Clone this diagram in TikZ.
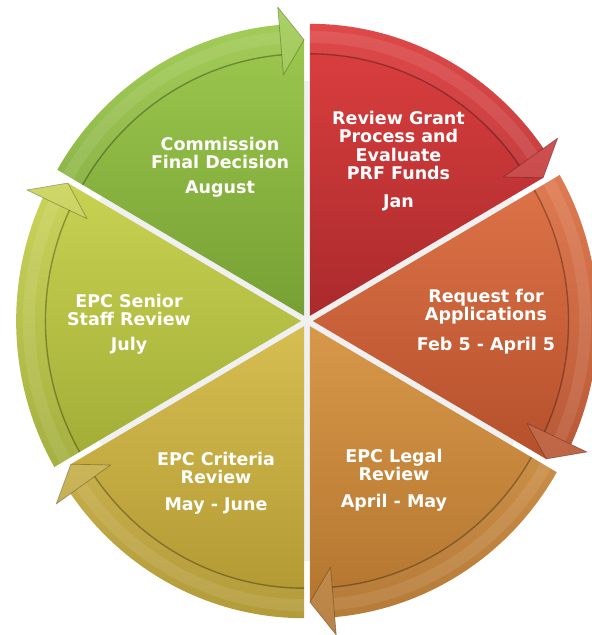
\documentclass[tikz,border=0pt]{standalone}
\usepackage{fontspec}
\setmainfont{DejaVu Sans}

\definecolor{redT}{RGB}{222,64,64}
\definecolor{redB}{RGB}{170,42,44}
\definecolor{orT}{RGB}{222,116,72}
\definecolor{orB}{RGB}{181,80,44}
\definecolor{amT}{RGB}{216,152,74}
\definecolor{amB}{RGB}{176,114,44}
\definecolor{yeT}{RGB}{214,190,82}
\definecolor{yeB}{RGB}{176,150,48}
\definecolor{ygT}{RGB}{200,210,82}
\definecolor{ygB}{RGB}{160,172,54}
\definecolor{grT}{RGB}{160,204,80}
\definecolor{grB}{RGB}{118,160,52}

\begin{document}
\begin{tikzpicture}[x=1pt,y=1pt,
  band/.style={fill=white,fill opacity=0.05},
  bandlight/.style={draw=white,draw opacity=0.09,line width=12pt},
  bandline/.style={draw=black,draw opacity=0.3,line width=1.4pt},
  arrhead/.style={fill=white,fill opacity=0.12,draw=black,draw opacity=0.28,line width=0.7pt,line join=round},
  lbl/.style={text=white,align=center,inner sep=0pt,font=\bfseries\fontsize{17.5}{18.5}\selectfont}]
\useasboundingbox (-307,-314) rectangle (285,321);
\fill[gray!12] (0,0) circle (240);

\begin{scope}[xscale=0.976]
% Jan
\begin{scope}[shift={(60:6)}]
\shade[top color=redT,bottom color=redB] (0,0) -- (90:292) arc[start angle=90,end angle=35,radius=292] -- (35:310) -- (30:276) -- cycle;
\fill[band] (90:292) arc[start angle=90,end angle=35,radius=292] -- (35:262) arc[start angle=35,end angle=90,radius=262] -- cycle;
\draw[bandlight] (90:279) arc[start angle=90,end angle=35,radius=279];
\draw[bandline] (90:262) arc[start angle=90,end angle=35,radius=262];
\filldraw[arrhead] (35:310) -- (30:276) -- (35:242) -- cycle;
\end{scope}
% Feb - April
\begin{scope}[shift={(0:6)}]
\shade[top color=orT,bottom color=orB] (0,0) -- (30:292) arc[start angle=30,end angle=-25,radius=292] -- (-25:310) -- (-30:276) -- cycle;
\fill[band] (30:292) arc[start angle=30,end angle=-25,radius=292] -- (-25:262) arc[start angle=-25,end angle=30,radius=262] -- cycle;
\draw[bandlight] (30:279) arc[start angle=30,end angle=-25,radius=279];
\draw[bandline] (30:262) arc[start angle=30,end angle=-25,radius=262];
\filldraw[arrhead] (-25:310) -- (-30:276) -- (-25:242) -- cycle;
\end{scope}
% April - May
\begin{scope}[shift={(-60:6)}]
\shade[top color=amT,bottom color=amB] (0,0) -- (-30:292) arc[start angle=-30,end angle=-85,radius=292] -- (-85:310) -- (-90:276) -- cycle;
\fill[band] (-30:292) arc[start angle=-30,end angle=-85,radius=292] -- (-85:262) arc[start angle=-85,end angle=-30,radius=262] -- cycle;
\draw[bandlight] (-30:279) arc[start angle=-30,end angle=-85,radius=279];
\draw[bandline] (-30:262) arc[start angle=-30,end angle=-85,radius=262];
\filldraw[arrhead] (-85:310) -- (-90:276) -- (-85:242) -- cycle;
\end{scope}
% May - June
\begin{scope}[shift={(-120:6)}]
\shade[top color=yeT,bottom color=yeB] (0,0) -- (-90:292) arc[start angle=-90,end angle=-145,radius=292] -- (-145:310) -- (-150:276) -- cycle;
\fill[band] (-90:292) arc[start angle=-90,end angle=-145,radius=292] -- (-145:262) arc[start angle=-145,end angle=-90,radius=262] -- cycle;
\draw[bandlight] (-90:279) arc[start angle=-90,end angle=-145,radius=279];
\draw[bandline] (-90:262) arc[start angle=-90,end angle=-145,radius=262];
\filldraw[arrhead] (-145:310) -- (-150:276) -- (-145:242) -- cycle;
\end{scope}
% July
\begin{scope}[shift={(180:6)}]
\shade[top color=ygT,bottom color=ygB] (0,0) -- (-150:292) arc[start angle=-150,end angle=-205,radius=292] -- (-205:310) -- (-210:276) -- cycle;
\fill[band] (-150:292) arc[start angle=-150,end angle=-205,radius=292] -- (-205:262) arc[start angle=-205,end angle=-150,radius=262] -- cycle;
\draw[bandlight] (-150:279) arc[start angle=-150,end angle=-205,radius=279];
\draw[bandline] (-150:262) arc[start angle=-150,end angle=-205,radius=262];
\filldraw[arrhead] (-205:310) -- (-210:276) -- (-205:242) -- cycle;
\end{scope}
% August
\begin{scope}[shift={(120:6)}]
\shade[top color=grT,bottom color=grB] (0,0) -- (150:292) arc[start angle=150,end angle=95,radius=292] -- (95:310) -- (90:276) -- cycle;
\fill[band] (150:292) arc[start angle=150,end angle=95,radius=292] -- (95:262) arc[start angle=95,end angle=150,radius=262] -- cycle;
\draw[bandlight] (150:279) arc[start angle=150,end angle=95,radius=279];
\draw[bandline] (150:262) arc[start angle=150,end angle=95,radius=262];
\filldraw[arrhead] (95:310) -- (90:276) -- (95:242) -- cycle;
\end{scope}
\end{scope}

\node[lbl] (jan) at (91.5,160) {Review Grant\\Process and\\Evaluate\\PRF Funds\\[9.5pt]Jan};
\node[lbl] (feb) at (179,-0.5) {Request for\\Applications\\[11pt]Feb 5 - April 5};
\node[lbl] (apr) at (87,-159) {EPC Legal\\Review\\[8pt]April - May};
\node[lbl] (may) at (-91,-162) {EPC Criteria\\Review\\[8pt]May - June};
\node[lbl] (jul) at (-178,-3) {EPC Senior\\Staff Review\\[6pt]July};
\node[lbl] (aug) at (-87,154) {Commission\\Final Decision\\[6pt]August};
\end{tikzpicture}
\end{document}
